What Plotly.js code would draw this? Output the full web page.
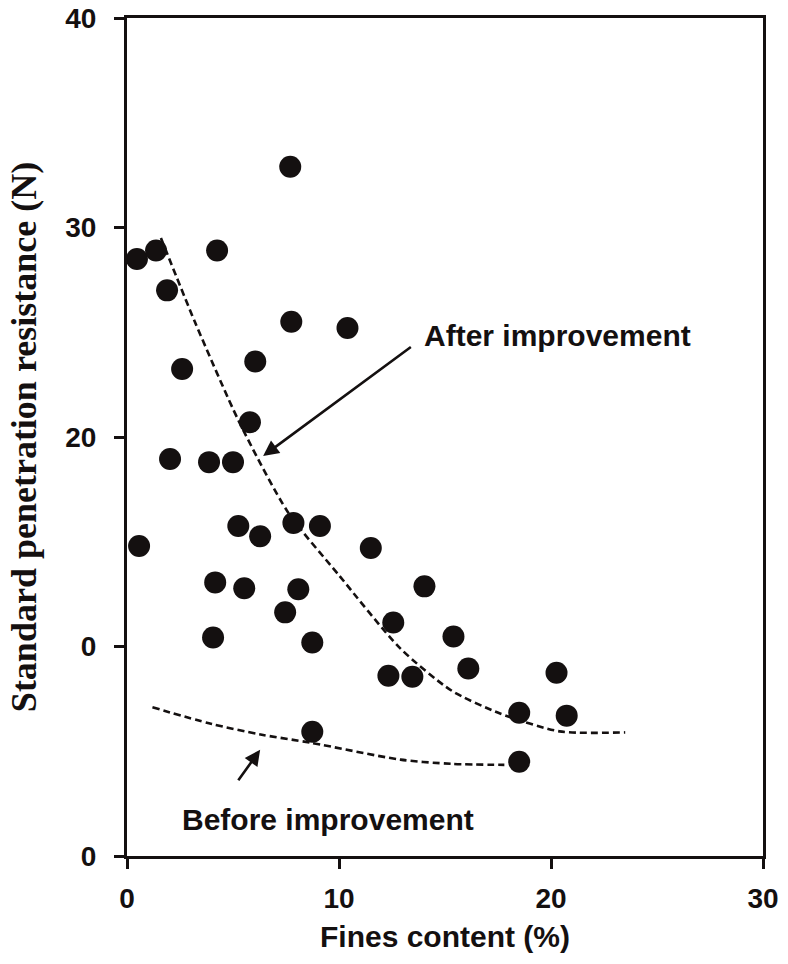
<!DOCTYPE html>
<html>
<head>
<meta charset="utf-8">
<script src="https://cdn.plot.ly/plotly-3.0.1.min.js"></script>
<style>html,body{margin:0;padding:0;background:#fff;}#chart{width:788px;height:964px;}</style>
</head>
<body>
<div id="chart"></div>
<script>
// Measured data points: fines content (%) vs standard penetration resistance (N)
const finesContent = [0.47, 1.37, 4.25, 7.7, 1.89, 7.75, 10.4, 2.6, 6.05, 5.8,
  2.03, 3.87, 5.0, 0.57, 5.25, 6.28, 7.85, 9.1, 11.5, 4.16,
  5.53, 8.08, 7.46, 4.06, 8.74, 12.56, 12.33, 13.46, 8.74, 14.03,
  15.4, 16.1, 20.26, 18.5, 20.74, 18.5];
const penetrationN = [28.5, 28.9, 28.9, 32.9, 27.0, 25.5, 25.2, 23.25, 23.6, 20.7,
  18.95, 18.8, 18.8, 14.8, 15.75, 15.26, 15.9, 15.75, 14.7, 13.06,
  12.78, 12.73, 11.63, 10.43, 10.19, 11.15, 8.6, 8.56, 5.93, 12.87,
  10.48, 8.95, 8.75, 6.84, 6.7, 4.5];

// Trend curves
const afterX = [1.6, 3.2, 5.3, 7.6, 10.0, 12.9, 15.3, 17.6, 20.4, 23.5];
const afterY = [29.5, 25.5, 20.7, 16.4, 13.4, 9.9, 7.9, 6.8, 5.95, 5.9];
const beforeX = [1.2, 4.0, 6.3, 8.7, 12.9, 15.3, 17.8];
const beforeY = [7.1, 6.3, 5.8, 5.4, 4.6, 4.4, 4.35];

// Axis ticks
const xTickVals = [0, 10, 20, 30];
const xTickText = ["0", "10", "20", "30"];
const yTickVals = [0, 10, 20, 30, 40];
const yTickText = ["0", "0", "20", "30", "40"];

const ink = "#141010";

const traces = [
  {x: afterX, y: afterY, type: "scatter", mode: "lines",
   line: {color: ink, width: 2.6, dash: "7px,4px", shape: "spline", smoothing: 0.7},
   hoverinfo: "skip", showlegend: false},
  {x: beforeX, y: beforeY, type: "scatter", mode: "lines",
   line: {color: ink, width: 2.6, dash: "7px,4px", shape: "spline", smoothing: 0.8},
   hoverinfo: "skip", showlegend: false},
  {x: finesContent, y: penetrationN, type: "scatter", mode: "markers",
   marker: {color: ink, size: 22, line: {width: 0}}, showlegend: false}
];

const tickFont = {family: "Liberation Sans, Arial, sans-serif", size: 28, color: ink, weight: "bold"};
const labelFont = {family: "Liberation Sans, Arial, sans-serif", size: 30, color: ink};

const layout = {
  width: 788, height: 964,
  margin: {l: 127, r: 25, t: 18, b: 108, pad: 0},
  paper_bgcolor: "#fff", plot_bgcolor: "#fff",
  showlegend: false,
  xaxis: {
    range: [0, 30], tickmode: "array", tickvals: xTickVals, ticktext: xTickText,
    ticks: "outside", ticklen: 10, tickwidth: 3, tickcolor: ink,
    showline: true, linewidth: 3, linecolor: ink, mirror: true,
    showgrid: false, zeroline: false,
    tickfont: tickFont, ticklabelstandoff: 5,
    title: {text: "<b>Fines content (%)</b>", font: labelFont, standoff: 14},
    automargin: false
  },
  yaxis: {
    range: [0, 40], tickmode: "array", tickvals: yTickVals, ticktext: yTickText,
    ticks: "outside", ticklen: 10, tickwidth: 3, tickcolor: ink,
    showline: true, linewidth: 3, linecolor: ink, mirror: true,
    showgrid: false, zeroline: false,
    tickfont: tickFont, ticklabelstandoff: 12,
    title: {text: "<b>Standard penetration resistance (N)</b>", font: {family: "Liberation Serif, Times New Roman, serif", size: 36, color: ink}, standoff: 18},
    automargin: false
  },
  annotations: [
    {x: 6.42, y: 19.09, ax: 13.46, ay: 24.35, xref: "x", yref: "y", axref: "x", ayref: "y",
     showarrow: true, arrowhead: 2, arrowsize: 1.2, arrowwidth: 2.6, arrowcolor: ink, text: ""},
    {x: 13.9, y: 24.85, xref: "x", yref: "y", xanchor: "left", yanchor: "middle", showarrow: false,
     text: "<b>After improvement</b>", font: labelFont},
    {x: 6.28, y: 5.07, ax: 5.2, ay: 3.54, xref: "x", yref: "y", axref: "x", ayref: "y",
     showarrow: true, arrowhead: 2, arrowsize: 1.2, arrowwidth: 2.6, arrowcolor: ink, text: ""},
    {x: 2.5, y: 1.75, xref: "x", yref: "y", xanchor: "left", yanchor: "middle", showarrow: false,
     text: "<b>Before improvement</b>", font: labelFont}
  ]
};

Plotly.newPlot("chart", traces, layout, {displayModeBar: false, staticPlot: true});
</script>
</body>
</html>
